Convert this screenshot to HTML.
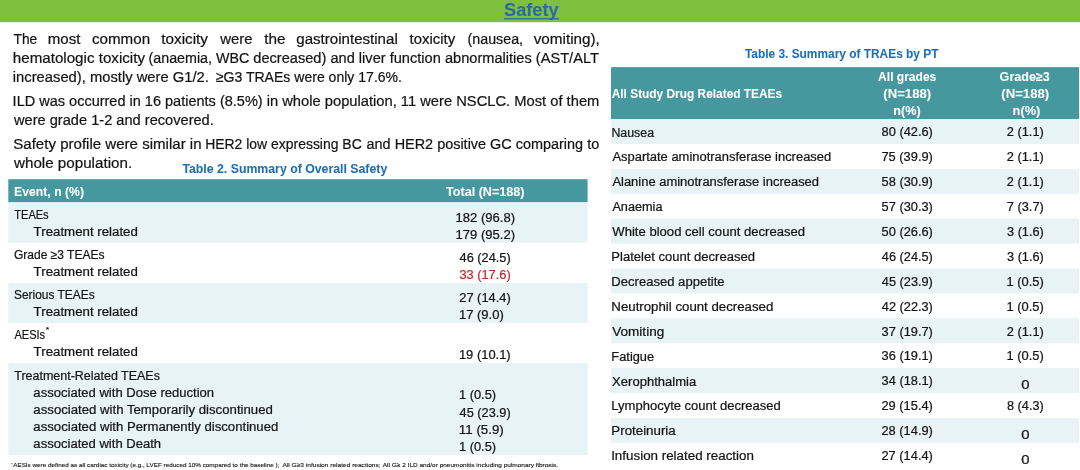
<!DOCTYPE html>
<html lang="en"><head><meta charset="utf-8"><title>Safety</title>
<style>
html,body{margin:0;padding:0;background:#fff}
#page{position:relative;width:1080px;height:470px;overflow:hidden;background:#fff;font-family:"Liberation Sans", sans-serif;color:#141414}
svg{position:absolute;left:0;top:0}
svg text{font-family:"Liberation Sans", sans-serif}
</style></head><body>
<div id="page">
<svg width="1080" height="470" viewBox="0 0 1080 470">
<rect x="0" y="0.00" width="1080.00" height="22.20" fill="#7fc03f"/>
<rect x="504.0" y="18.10" width="55.00" height="1.30" fill="#2b6a9c"/>
<rect x="8.3" y="179.20" width="579.30" height="23.10" fill="#46989f"/>
<rect x="8.3" y="202.30" width="579.30" height="40.40" fill="#e7f3f5"/>
<rect x="8.3" y="283.00" width="579.30" height="40.00" fill="#e7f3f5"/>
<rect x="8.3" y="363.10" width="579.30" height="92.10" fill="#e7f3f5"/>
<rect x="611.0" y="67.10" width="468.00" height="52.00" fill="#46989f"/>
<rect x="611.0" y="119.10" width="468.00" height="24.90" fill="#e7f3f5"/>
<rect x="611.0" y="168.90" width="468.00" height="24.90" fill="#e7f3f5"/>
<rect x="611.0" y="218.70" width="468.00" height="24.90" fill="#e7f3f5"/>
<rect x="611.0" y="268.50" width="468.00" height="24.90" fill="#e7f3f5"/>
<rect x="611.0" y="318.30" width="468.00" height="24.90" fill="#e7f3f5"/>
<rect x="611.0" y="368.10" width="468.00" height="24.90" fill="#e7f3f5"/>
<rect x="611.0" y="417.90" width="468.00" height="24.90" fill="#e7f3f5"/>
<text x="504.12" y="15.6" font-size="18.5" font-weight="700" fill="#2a6aa6" stroke="#2a6aa6" stroke-width="0.05" textLength="54.47" lengthAdjust="spacingAndGlyphs">Safety</text>
<text x="13.53" y="43.5" font-size="15.2" font-weight="400" fill="#141414" stroke="#141414" stroke-width="0.22" textLength="23.77" lengthAdjust="spacingAndGlyphs">The</text>
<text x="47.81" y="43.5" font-size="15.2" font-weight="400" fill="#141414" stroke="#141414" stroke-width="0.22" textLength="32.64" lengthAdjust="spacingAndGlyphs">most</text>
<text x="92.03" y="43.5" font-size="15.2" font-weight="400" fill="#141414" stroke="#141414" stroke-width="0.22" textLength="58.07" lengthAdjust="spacingAndGlyphs">common</text>
<text x="161.25" y="43.5" font-size="15.2" font-weight="400" fill="#141414" stroke="#141414" stroke-width="0.22" textLength="46.75" lengthAdjust="spacingAndGlyphs">toxicity</text>
<text x="220.23" y="43.5" font-size="15.2" font-weight="400" fill="#141414" stroke="#141414" stroke-width="0.22" textLength="32.37" lengthAdjust="spacingAndGlyphs">were</text>
<text x="264.25" y="43.5" font-size="15.2" font-weight="400" fill="#141414" stroke="#141414" stroke-width="0.22" textLength="21.37" lengthAdjust="spacingAndGlyphs">the</text>
<text x="296.28" y="43.5" font-size="15.2" font-weight="400" fill="#141414" stroke="#141414" stroke-width="0.22" textLength="101.47" lengthAdjust="spacingAndGlyphs">gastrointestinal</text>
<text x="409.50" y="43.5" font-size="15.2" font-weight="400" fill="#141414" stroke="#141414" stroke-width="0.22" textLength="45.75" lengthAdjust="spacingAndGlyphs">toxicity</text>
<text x="467.58" y="43.5" font-size="15.2" font-weight="400" fill="#141414" stroke="#141414" stroke-width="0.22" textLength="55.48" lengthAdjust="spacingAndGlyphs">(nausea,</text>
<text x="533.75" y="43.5" font-size="15.2" font-weight="400" fill="#141414" stroke="#141414" stroke-width="0.22" textLength="66.09" lengthAdjust="spacingAndGlyphs">vomiting),</text>
<text x="12.80" y="62.7" font-size="15.2" font-weight="400" fill="#141414" stroke="#141414" stroke-width="0.22" textLength="132.20" lengthAdjust="spacingAndGlyphs">hematologic toxicity</text>
<text x="148.58" y="62.7" font-size="15.2" font-weight="400" fill="#141414" stroke="#141414" stroke-width="0.22" textLength="100.66" lengthAdjust="spacingAndGlyphs">(anaemia, WBC</text>
<text x="253.29" y="62.7" font-size="15.2" font-weight="400" fill="#141414" stroke="#141414" stroke-width="0.22" textLength="345.56" lengthAdjust="spacingAndGlyphs">decreased) and liver function abnormalities (AST/ALT</text>
<text x="12.83" y="82.1" font-size="15.2" font-weight="400" fill="#141414" stroke="#141414" stroke-width="0.22" textLength="196.01" lengthAdjust="spacingAndGlyphs">increased), mostly were G1/2.</text>
<text x="215.81" y="82.1" font-size="15.2" font-weight="400" fill="#141414" stroke="#141414" stroke-width="0.22" textLength="186.21" lengthAdjust="spacingAndGlyphs">≥G3 TRAEs were only 17.6%.</text>
<text x="12.62" y="105.7" font-size="15.2" font-weight="400" fill="#141414" stroke="#141414" stroke-width="0.22" textLength="250.03" lengthAdjust="spacingAndGlyphs">ILD was occurred in 16 patients (8.5%)</text>
<text x="266.68" y="105.7" font-size="15.2" font-weight="400" fill="#141414" stroke="#141414" stroke-width="0.22" textLength="332.68" lengthAdjust="spacingAndGlyphs">in whole population, 11 were NSCLC. Most of them</text>
<text x="13.98" y="125" font-size="15.2" font-weight="400" fill="#141414" stroke="#141414" stroke-width="0.22" textLength="199.84" lengthAdjust="spacingAndGlyphs">were grade 1-2 and recovered.</text>
<text x="13.28" y="149.2" font-size="15.2" font-weight="400" fill="#141414" stroke="#141414" stroke-width="0.22" textLength="188.32" lengthAdjust="spacingAndGlyphs">Safety profile were similar in</text>
<text x="205.16" y="149.2" font-size="15.2" font-weight="400" fill="#141414" stroke="#141414" stroke-width="0.22" textLength="156.57" lengthAdjust="spacingAndGlyphs">HER2 low expressing BC</text>
<text x="366.55" y="149.2" font-size="15.2" font-weight="400" fill="#141414" stroke="#141414" stroke-width="0.22" textLength="232.64" lengthAdjust="spacingAndGlyphs">and HER2 positive GC comparing to</text>
<text x="13.99" y="168.2" font-size="15.2" font-weight="400" fill="#141414" stroke="#141414" stroke-width="0.22" textLength="118.13" lengthAdjust="spacingAndGlyphs">whole population.</text>
<text x="182.40" y="173" font-size="12" font-weight="700" fill="#1f6eb4" stroke="#1f6eb4" stroke-width="0.05" textLength="204.83" lengthAdjust="spacingAndGlyphs">Table 2. Summary of Overall Safety</text>
<text x="14.12" y="195.9" font-size="12.5" font-weight="700" fill="#fff" stroke="#fff" stroke-width="0.05" textLength="69.88" lengthAdjust="spacingAndGlyphs">Event, n (%)</text>
<text x="446.00" y="195.8" font-size="12.5" font-weight="700" fill="#fff" stroke="#fff" stroke-width="0.05" textLength="78.52" lengthAdjust="spacingAndGlyphs">Total (N=188)</text>
<text x="14.28" y="218.8" font-size="12.5" font-weight="400" fill="#141414" stroke="#141414" stroke-width="0.22" textLength="34.37" lengthAdjust="spacingAndGlyphs">TEAEs</text>
<text x="33.63" y="235.7" font-size="12.5" font-weight="400" fill="#141414" stroke="#141414" stroke-width="0.22" textLength="104.22" lengthAdjust="spacingAndGlyphs">Treatment related</text>
<text x="13.92" y="259" font-size="12.5" font-weight="400" fill="#141414" stroke="#141414" stroke-width="0.22" textLength="90.61" lengthAdjust="spacingAndGlyphs">Grade ≥3 TEAEs</text>
<text x="33.63" y="275.8" font-size="12.5" font-weight="400" fill="#141414" stroke="#141414" stroke-width="0.22" textLength="104.22" lengthAdjust="spacingAndGlyphs">Treatment related</text>
<text x="13.98" y="298.8" font-size="12.5" font-weight="400" fill="#141414" stroke="#141414" stroke-width="0.22" textLength="80.65" lengthAdjust="spacingAndGlyphs">Serious TEAEs</text>
<text x="33.63" y="315.6" font-size="12.5" font-weight="400" fill="#141414" stroke="#141414" stroke-width="0.22" textLength="104.22" lengthAdjust="spacingAndGlyphs">Treatment related</text>
<text x="14.50" y="339.1" font-size="12.5" font-weight="400" fill="#141414" stroke="#141414" stroke-width="0.22" textLength="30.60" lengthAdjust="spacingAndGlyphs">AESIs</text>
<text x="45.79" y="331.8" font-size="8" font-weight="400" fill="#141414" stroke="#141414" stroke-width="0.1" textLength="3.54" lengthAdjust="spacingAndGlyphs">*</text>
<text x="33.63" y="355.6" font-size="12.5" font-weight="400" fill="#141414" stroke="#141414" stroke-width="0.22" textLength="104.22" lengthAdjust="spacingAndGlyphs">Treatment related</text>
<text x="14.25" y="379.9" font-size="12.5" font-weight="400" fill="#141414" stroke="#141414" stroke-width="0.22" textLength="145.70" lengthAdjust="spacingAndGlyphs">Treatment-Related TEAEs</text>
<text x="33.38" y="397.2" font-size="12.5" font-weight="400" fill="#141414" stroke="#141414" stroke-width="0.22" textLength="180.76" lengthAdjust="spacingAndGlyphs">associated with Dose reduction</text>
<text x="33.37" y="413.9" font-size="12.5" font-weight="400" fill="#141414" stroke="#141414" stroke-width="0.22" textLength="239.47" lengthAdjust="spacingAndGlyphs">associated with Temporarily discontinued</text>
<text x="33.37" y="431.0" font-size="12.5" font-weight="400" fill="#141414" stroke="#141414" stroke-width="0.22" textLength="244.97" lengthAdjust="spacingAndGlyphs">associated with Permanently discontinued</text>
<text x="33.38" y="448.3" font-size="12.5" font-weight="400" fill="#141414" stroke="#141414" stroke-width="0.22" textLength="127.76" lengthAdjust="spacingAndGlyphs">associated with Death</text>
<text x="455.61" y="222.0" font-size="12.5" font-weight="400" fill="#141414" stroke="#141414" stroke-width="0.22" textLength="59.49" lengthAdjust="spacingAndGlyphs">182 (96.8)</text>
<text x="455.61" y="239.3" font-size="12.5" font-weight="400" fill="#141414" stroke="#141414" stroke-width="0.22" textLength="59.49" lengthAdjust="spacingAndGlyphs">179 (95.2)</text>
<text x="459.64" y="262.0" font-size="12.5" font-weight="400" fill="#141414" stroke="#141414" stroke-width="0.22" textLength="51.03" lengthAdjust="spacingAndGlyphs">46 (24.5)</text>
<text x="459.44" y="279.1" font-size="12.5" font-weight="400" fill="#c9282b" stroke="#c9282b" stroke-width="0.22" textLength="51.24" lengthAdjust="spacingAndGlyphs">33 (17.6)</text>
<text x="459.28" y="301.7" font-size="12.5" font-weight="400" fill="#141414" stroke="#141414" stroke-width="0.22" textLength="51.40" lengthAdjust="spacingAndGlyphs">27 (14.4)</text>
<text x="458.91" y="318.6" font-size="12.5" font-weight="400" fill="#141414" stroke="#141414" stroke-width="0.22" textLength="44.88" lengthAdjust="spacingAndGlyphs">17 (9.0)</text>
<text x="458.92" y="358.9" font-size="12.5" font-weight="400" fill="#141414" stroke="#141414" stroke-width="0.22" textLength="51.77" lengthAdjust="spacingAndGlyphs">19 (10.1)</text>
<text x="458.92" y="399.4" font-size="12.5" font-weight="400" fill="#141414" stroke="#141414" stroke-width="0.22" textLength="37.27" lengthAdjust="spacingAndGlyphs">1 (0.5)</text>
<text x="459.64" y="417.0" font-size="12.5" font-weight="400" fill="#141414" stroke="#141414" stroke-width="0.22" textLength="51.03" lengthAdjust="spacingAndGlyphs">45 (23.9)</text>
<text x="458.89" y="433.9" font-size="12.5" font-weight="400" fill="#141414" stroke="#141414" stroke-width="0.22" textLength="44.93" lengthAdjust="spacingAndGlyphs">11 (5.9)</text>
<text x="458.92" y="450.9" font-size="12.5" font-weight="400" fill="#141414" stroke="#141414" stroke-width="0.22" textLength="37.27" lengthAdjust="spacingAndGlyphs">1 (0.5)</text>
<text x="11.04" y="465.79999999999995" font-size="4.2" font-weight="400" fill="#141414" stroke="#141414" stroke-width="0" textLength="1.90" lengthAdjust="spacingAndGlyphs">*</text>
<text x="13.20" y="467.4" font-size="6.1" font-weight="400" fill="#141414" stroke="#141414" stroke-width="0.12" textLength="131.57" lengthAdjust="spacingAndGlyphs">AESIs were defined as all cardiac toxicity (e.g.,</text>
<text x="146.38" y="467.4" font-size="6.1" font-weight="400" fill="#141414" stroke="#141414" stroke-width="0.12" textLength="133.09" lengthAdjust="spacingAndGlyphs">LVEF reduced 10% compared to the baseline );</text>
<text x="282.50" y="467.4" font-size="6.1" font-weight="400" fill="#141414" stroke="#141414" stroke-width="0.12" textLength="98.09" lengthAdjust="spacingAndGlyphs">All G≥3 infusion related reactions;</text>
<text x="382.80" y="467.4" font-size="6.1" font-weight="400" fill="#141414" stroke="#141414" stroke-width="0.12" textLength="175.28" lengthAdjust="spacingAndGlyphs">All G≥ 2 ILD and/or pneumonitis including pulmonary fibrosis.</text>
<text x="744.90" y="58" font-size="12" font-weight="700" fill="#1f6eb4" stroke="#1f6eb4" stroke-width="0.05" textLength="193.58" lengthAdjust="spacingAndGlyphs">Table 3. Summary of TRAEs by PT</text>
<text x="611.41" y="136.5" font-size="12.5" font-weight="400" fill="#141414" stroke="#141414" stroke-width="0.22" textLength="42.64" lengthAdjust="spacingAndGlyphs">Nausea</text>
<text x="881.59" y="136.3" font-size="12.5" font-weight="400" fill="#141414" stroke="#141414" stroke-width="0.22" textLength="51.29" lengthAdjust="spacingAndGlyphs">80 (42.6)</text>
<text x="1006.89" y="136.3" font-size="12.5" font-weight="400" fill="#141414" stroke="#141414" stroke-width="0.22" textLength="36.89" lengthAdjust="spacingAndGlyphs">2 (1.1)</text>
<text x="612.40" y="161.4" font-size="12.5" font-weight="400" fill="#141414" stroke="#141414" stroke-width="0.22" textLength="218.83" lengthAdjust="spacingAndGlyphs">Aspartate aminotransferase increased</text>
<text x="881.48" y="161.20000000000002" font-size="12.5" font-weight="400" fill="#141414" stroke="#141414" stroke-width="0.22" textLength="51.40" lengthAdjust="spacingAndGlyphs">75 (39.9)</text>
<text x="1006.89" y="161.20000000000002" font-size="12.5" font-weight="400" fill="#141414" stroke="#141414" stroke-width="0.22" textLength="36.89" lengthAdjust="spacingAndGlyphs">2 (1.1)</text>
<text x="612.40" y="186.3" font-size="12.5" font-weight="400" fill="#141414" stroke="#141414" stroke-width="0.22" textLength="206.63" lengthAdjust="spacingAndGlyphs">Alanine aminotransferase increased</text>
<text x="881.59" y="186.10000000000002" font-size="12.5" font-weight="400" fill="#141414" stroke="#141414" stroke-width="0.22" textLength="51.29" lengthAdjust="spacingAndGlyphs">58 (30.9)</text>
<text x="1006.89" y="186.10000000000002" font-size="12.5" font-weight="400" fill="#141414" stroke="#141414" stroke-width="0.22" textLength="36.89" lengthAdjust="spacingAndGlyphs">2 (1.1)</text>
<text x="612.40" y="211.2" font-size="12.5" font-weight="400" fill="#141414" stroke="#141414" stroke-width="0.22" textLength="50.05" lengthAdjust="spacingAndGlyphs">Anaemia</text>
<text x="881.59" y="211.0" font-size="12.5" font-weight="400" fill="#141414" stroke="#141414" stroke-width="0.22" textLength="51.29" lengthAdjust="spacingAndGlyphs">57 (30.3)</text>
<text x="1006.89" y="211.0" font-size="12.5" font-weight="400" fill="#141414" stroke="#141414" stroke-width="0.22" textLength="36.89" lengthAdjust="spacingAndGlyphs">7 (3.7)</text>
<text x="612.35" y="236.1" font-size="12.5" font-weight="400" fill="#141414" stroke="#141414" stroke-width="0.22" textLength="192.69" lengthAdjust="spacingAndGlyphs">White blood cell count decreased</text>
<text x="881.59" y="235.9" font-size="12.5" font-weight="400" fill="#141414" stroke="#141414" stroke-width="0.22" textLength="51.29" lengthAdjust="spacingAndGlyphs">50 (26.6)</text>
<text x="1007.04" y="235.9" font-size="12.5" font-weight="400" fill="#141414" stroke="#141414" stroke-width="0.22" textLength="36.73" lengthAdjust="spacingAndGlyphs">3 (1.6)</text>
<text x="611.36" y="261.0" font-size="12.5" font-weight="400" fill="#141414" stroke="#141414" stroke-width="0.22" textLength="143.58" lengthAdjust="spacingAndGlyphs">Platelet count decreased</text>
<text x="881.84" y="260.8" font-size="12.5" font-weight="400" fill="#141414" stroke="#141414" stroke-width="0.22" textLength="51.03" lengthAdjust="spacingAndGlyphs">46 (24.5)</text>
<text x="1007.04" y="260.8" font-size="12.5" font-weight="400" fill="#141414" stroke="#141414" stroke-width="0.22" textLength="36.73" lengthAdjust="spacingAndGlyphs">3 (1.6)</text>
<text x="611.36" y="285.9" font-size="12.5" font-weight="400" fill="#141414" stroke="#141414" stroke-width="0.22" textLength="113.22" lengthAdjust="spacingAndGlyphs">Decreased appetite</text>
<text x="881.84" y="285.7" font-size="12.5" font-weight="400" fill="#141414" stroke="#141414" stroke-width="0.22" textLength="51.03" lengthAdjust="spacingAndGlyphs">45 (23.9)</text>
<text x="1006.52" y="285.7" font-size="12.5" font-weight="400" fill="#141414" stroke="#141414" stroke-width="0.22" textLength="37.27" lengthAdjust="spacingAndGlyphs">1 (0.5)</text>
<text x="611.34" y="310.79999999999995" font-size="12.5" font-weight="400" fill="#141414" stroke="#141414" stroke-width="0.22" textLength="162.01" lengthAdjust="spacingAndGlyphs">Neutrophil count decreased</text>
<text x="881.84" y="310.59999999999997" font-size="12.5" font-weight="400" fill="#141414" stroke="#141414" stroke-width="0.22" textLength="51.03" lengthAdjust="spacingAndGlyphs">42 (22.3)</text>
<text x="1006.52" y="310.59999999999997" font-size="12.5" font-weight="400" fill="#141414" stroke="#141414" stroke-width="0.22" textLength="37.27" lengthAdjust="spacingAndGlyphs">1 (0.5)</text>
<text x="612.35" y="335.7" font-size="12.5" font-weight="400" fill="#141414" stroke="#141414" stroke-width="0.22" textLength="51.82" lengthAdjust="spacingAndGlyphs">Vomiting</text>
<text x="881.64" y="335.5" font-size="12.5" font-weight="400" fill="#141414" stroke="#141414" stroke-width="0.22" textLength="51.24" lengthAdjust="spacingAndGlyphs">37 (19.7)</text>
<text x="1006.89" y="335.5" font-size="12.5" font-weight="400" fill="#141414" stroke="#141414" stroke-width="0.22" textLength="36.89" lengthAdjust="spacingAndGlyphs">2 (1.1)</text>
<text x="611.37" y="360.6" font-size="12.5" font-weight="400" fill="#141414" stroke="#141414" stroke-width="0.22" textLength="42.79" lengthAdjust="spacingAndGlyphs">Fatigue</text>
<text x="881.64" y="360.40000000000003" font-size="12.5" font-weight="400" fill="#141414" stroke="#141414" stroke-width="0.22" textLength="51.24" lengthAdjust="spacingAndGlyphs">36 (19.1)</text>
<text x="1006.52" y="360.40000000000003" font-size="12.5" font-weight="400" fill="#141414" stroke="#141414" stroke-width="0.22" textLength="37.27" lengthAdjust="spacingAndGlyphs">1 (0.5)</text>
<text x="612.14" y="385.5" font-size="12.5" font-weight="400" fill="#141414" stroke="#141414" stroke-width="0.22" textLength="84.01" lengthAdjust="spacingAndGlyphs">Xerophthalmia</text>
<text x="881.64" y="385.3" font-size="12.5" font-weight="400" fill="#141414" stroke="#141414" stroke-width="0.22" textLength="51.24" lengthAdjust="spacingAndGlyphs">34 (18.1)</text>
<text x="1021.26" y="389.2" font-size="12.5" font-weight="400" fill="#141414" stroke="#141414" stroke-width="0.22" textLength="8.27" lengthAdjust="spacingAndGlyphs">0</text>
<text x="611.36" y="410.4" font-size="12.5" font-weight="400" fill="#141414" stroke="#141414" stroke-width="0.22" textLength="169.37" lengthAdjust="spacingAndGlyphs">Lymphocyte count decreased</text>
<text x="881.48" y="410.2" font-size="12.5" font-weight="400" fill="#141414" stroke="#141414" stroke-width="0.22" textLength="51.40" lengthAdjust="spacingAndGlyphs">29 (15.4)</text>
<text x="1006.99" y="410.2" font-size="12.5" font-weight="400" fill="#141414" stroke="#141414" stroke-width="0.22" textLength="36.79" lengthAdjust="spacingAndGlyphs">8 (4.3)</text>
<text x="611.33" y="435.29999999999995" font-size="12.5" font-weight="400" fill="#141414" stroke="#141414" stroke-width="0.22" textLength="64.41" lengthAdjust="spacingAndGlyphs">Proteinuria</text>
<text x="881.48" y="435.09999999999997" font-size="12.5" font-weight="400" fill="#141414" stroke="#141414" stroke-width="0.22" textLength="51.40" lengthAdjust="spacingAndGlyphs">28 (14.9)</text>
<text x="1021.26" y="438.99999999999994" font-size="12.5" font-weight="400" fill="#141414" stroke="#141414" stroke-width="0.22" textLength="8.27" lengthAdjust="spacingAndGlyphs">0</text>
<text x="611.17" y="460.2" font-size="12.5" font-weight="400" fill="#141414" stroke="#141414" stroke-width="0.22" textLength="142.79" lengthAdjust="spacingAndGlyphs">Infusion related reaction</text>
<text x="881.48" y="460.0" font-size="12.5" font-weight="400" fill="#141414" stroke="#141414" stroke-width="0.22" textLength="51.40" lengthAdjust="spacingAndGlyphs">27 (14.4)</text>
<text x="1021.26" y="463.9" font-size="12.5" font-weight="400" fill="#141414" stroke="#141414" stroke-width="0.22" textLength="8.27" lengthAdjust="spacingAndGlyphs">0</text>
<text x="611.71" y="98.1" font-size="12.5" font-weight="700" fill="#fff" stroke="#fff" stroke-width="0.05" textLength="170.46" lengthAdjust="spacingAndGlyphs">All Study Drug Related TEAEs</text>
<text x="878.11" y="81.2" font-size="12.5" font-weight="700" fill="#fff" stroke="#fff" stroke-width="0.05" textLength="58.17" lengthAdjust="spacingAndGlyphs">All grades</text>
<text x="883.37" y="98.1" font-size="12.5" font-weight="700" fill="#fff" stroke="#fff" stroke-width="0.05" textLength="47.77" lengthAdjust="spacingAndGlyphs">(N=188)</text>
<text x="893.39" y="115.2" font-size="12.5" font-weight="700" fill="#fff" stroke="#fff" stroke-width="0.05" textLength="27.43" lengthAdjust="spacingAndGlyphs">n(%)</text>
<text x="999.60" y="81.2" font-size="12.5" font-weight="700" fill="#fff" stroke="#fff" stroke-width="0.05" textLength="50.26" lengthAdjust="spacingAndGlyphs">Grade≥3</text>
<text x="1001.27" y="98.1" font-size="12.5" font-weight="700" fill="#fff" stroke="#fff" stroke-width="0.05" textLength="47.98" lengthAdjust="spacingAndGlyphs">(N=188)</text>
<text x="1012.58" y="115.2" font-size="12.5" font-weight="700" fill="#fff" stroke="#fff" stroke-width="0.05" textLength="27.75" lengthAdjust="spacingAndGlyphs">n(%)</text>
</svg>
</div>
</body></html>
